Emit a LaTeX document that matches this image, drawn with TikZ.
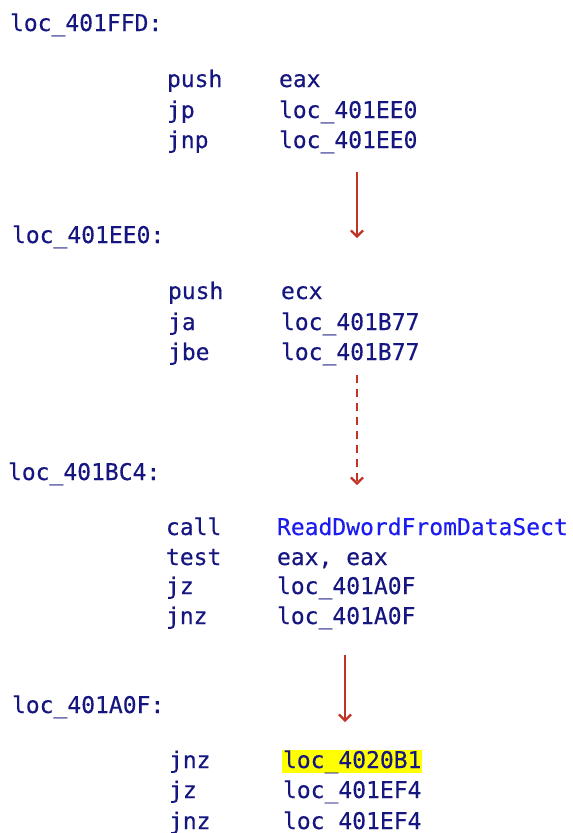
\documentclass[tikz,border=0pt]{standalone}
\usepackage{fontspec}
\setmonofont[FakeBold=0.35]{DejaVu Sans Mono}
\usetikzlibrary{arrows.meta}
\definecolor{asmnavy}{RGB}{22,22,128}
\definecolor{asmfunc}{RGB}{28,28,238}
\definecolor{flowred}{RGB}{192,52,38}
\definecolor{hilite}{RGB}{255,255,0}
\tikzset{
  asm/.style={anchor=base west, inner sep=0pt, outer sep=0pt, text=asmnavy,
              font=\ttfamily\fontsize{23}{29}\selectfont},
  fname/.style={asm, text=asmfunc},
  marked/.style={asm, fill=hilite, inner xsep=1pt, inner ysep=1pt,
                 text height=17pt, text depth=4pt},
  flow/.style={draw=flowred, line width=1.8pt,
               -{Straight Barb[length=6pt,width=12pt,line width=2.2pt]}},
  flowdash/.style={flow, dash pattern=on 8pt off 6pt},
}
\begin{document}
\begin{tikzpicture}[x=1pt,y=-1pt]
\useasboundingbox (0,0) rectangle (573,833);

% block at loc_401FFD
\node[asm] (l1)  at (10,31)   {loc\_401FFD:};
\node[asm] (m11) at (167,87)  {push};
\node[asm] (o11) at (279,87)  {eax};
\node[asm] (m12) at (167,118) {jp};
\node[asm] (o12) at (279,118) {loc\_401EE0};
\node[asm] (m13) at (167,148) {jnp};
\node[asm] (o13) at (279,148) {loc\_401EE0};

% block at loc_401EE0
\node[asm] (l2)  at (12,243)  {loc\_401EE0:};
\node[asm] (m21) at (168,299) {push};
\node[asm] (o21) at (281,299) {ecx};
\node[asm] (m22) at (168,330) {ja};
\node[asm] (o22) at (281,330) {loc\_401B77};
\node[asm] (m23) at (168,360) {jbe};
\node[asm] (o23) at (281,360) {loc\_401B77};

% block at loc_401BC4
\node[asm]   (l3)  at (8,480)   {loc\_401BC4:};
\node[asm]   (m31) at (166,535) {call};
\node[fname] (o31) at (277,535) {ReadDwordFromDataSect};
\node[asm]   (m32) at (166,565) {test};
\node[asm]   (o32) at (277,565) {eax, eax};
\node[asm]   (m33) at (166,594) {jz};
\node[asm]   (o33) at (277,594) {loc\_401A0F};
\node[asm]   (m34) at (166,624) {jnz};
\node[asm]   (o34) at (277,624) {loc\_401A0F};

% block at loc_401A0F
\node[asm]    (l4)  at (12,713)  {loc\_401A0F:};
\node[asm]    (m41) at (169,768) {jnz};
\node[marked] (o41) at (282,768) {loc\_4020B1};
\node[asm]    (m42) at (169,798) {jz};
\node[asm]    (o42) at (283,798) {loc\_401EF4};
\node[asm]    (m43) at (169,829) {jnz};
\node[asm]    (o43) at (283,829) {loc\_401EF4};

% flow arrows between the blocks
\coordinate (f1a) at (357,172);
\coordinate (f1b) at (357,238);
\coordinate (f2a) at (357,375);
\coordinate (f2b) at (357,485);
\coordinate (f3a) at (345,655);
\coordinate (f3b) at (345,722);
\draw[flow]     (f1a) -- (f1b);
\draw[flowdash] (f2a) -- (f2b);
\draw[flow]     (f3a) -- (f3b);
\end{tikzpicture}
\end{document}
